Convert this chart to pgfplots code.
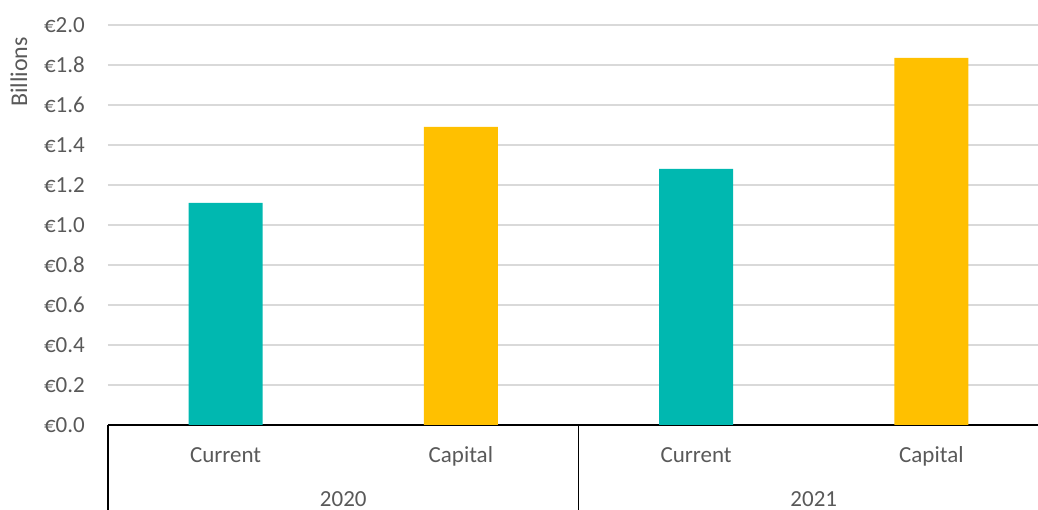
\documentclass[border=0pt]{standalone}
\usepackage{fontspec}
\setmainfont{Carlito}
\usepackage{pgfplots}
\pgfplotsset{compat=1.18}
\definecolor{teal1}{HTML}{00B8B0}
\definecolor{gold1}{HTML}{FFC000}
\definecolor{txt}{HTML}{595959}
\definecolor{gridc}{HTML}{D9D9D9}
\begin{document}
\fontsize{23pt}{27pt}\selectfont
\begin{tikzpicture}
\useasboundingbox (0,0) rectangle (1038pt,510pt);
\begin{scope}
\clip (0,0) rectangle (1038pt,510pt);
\begin{axis}[
  at={(108pt,85pt)}, anchor=south west,
  scale only axis, width=941pt, height=400pt,
  xmin=-0.5, xmax=3.5, ymin=0, ymax=2,
  ybar, bar width=74pt, bar shift=0pt,
  axis x line*=bottom, axis y line*=left,
  y axis line style={draw=none},
  x axis line style={black, line width=1.5pt},
  xtick={0,1,2,3},
  xticklabels={Current,Capital,Current,Capital},
  x tick label style={anchor=base, yshift=-38pt, inner sep=0pt, text=txt, font=\fontsize{23pt}{27pt}\selectfont},
  ytick={0,0.2,...,2.01},
  yticklabel={€\pgfmathprintnumber[fixed,fixed zerofill,precision=1]{\tick}},
  /pgf/number format/assume math mode=true,
  y tick label style={anchor=east, inner sep=0pt, xshift=-23pt, text=txt, font=\fontsize{23pt}{27pt}\selectfont},
  major tick length=0pt,
  ymajorgrids, grid style={gridc, line width=1.5pt},
  extra x ticks={-0.5,1.5},
  extra x tick labels={},
  extra x tick style={major tick length=120pt, tick align=outside, tick style={black, line width=1.5pt}, grid=none},
  ylabel={Billions},
  ylabel style={at={(axis description cs:0,0.8825)}, anchor=center, yshift=89pt, text=txt, font=\fontsize{24pt}{28pt}\selectfont},
  clip=false,
]
\addplot[fill=teal1, draw=none] coordinates {(0,1.11) (2,1.28)};
\addplot[fill=gold1, draw=none] coordinates {(1,1.49) (3,1.835)};
\node[anchor=base, text=txt, inner sep=0pt, font=\fontsize{23pt}{27pt}\selectfont] at (axis cs:0.5,0) [yshift=-82pt] {2020};
\node[anchor=base, text=txt, inner sep=0pt, font=\fontsize{23pt}{27pt}\selectfont] at (axis cs:2.5,0) [yshift=-82pt] {2021};
\end{axis}
\end{scope}
\end{tikzpicture}
\end{document}
